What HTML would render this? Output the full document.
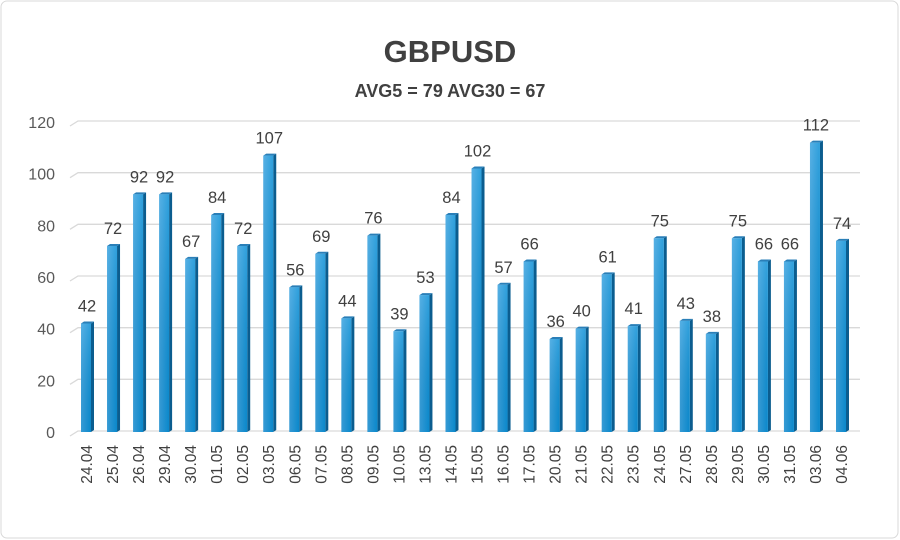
<!DOCTYPE html>
<html><head><meta charset="utf-8"><style>
body{margin:0;background:#fff}
svg{display:block;font-family:"Liberation Sans",sans-serif}
</style></head><body>
<svg id="c" width="900" height="540">
<defs>
<linearGradient id="fg" x1="0" y1="0" x2="1" y2="0"><stop offset="0" stop-color="#3aa3e0"/><stop offset="1" stop-color="#0a8fd6"/></linearGradient>
<linearGradient id="vg" x1="0" y1="0" x2="0" y2="1"><stop offset="0" stop-color="#ffffff" stop-opacity="0.15"/><stop offset="1" stop-color="#000" stop-opacity="0.05"/></linearGradient>
</defs>
<rect x="1" y="1" width="897" height="537" rx="6" fill="#fff" stroke="#d9d9d9"/>
<text x="450" y="62" text-anchor="middle" font-size="31" font-weight="bold" fill="#404040">GBPUSD</text>
<text x="450" y="97" text-anchor="middle" font-size="18" font-weight="bold" fill="#404040">AVG5 = 79 AVG30 = 67</text>
<g id="grid"></g><g id="bars"></g><g id="labels"></g>
</svg>
<script>
const categories=["24.04","25.04","26.04","29.04","30.04","01.05","02.05","03.05","06.05","07.05","08.05","09.05","10.05","13.05","14.05","15.05","16.05","17.05","20.05","21.05","22.05","23.05","24.05","27.05","28.05","29.05","30.05","31.05","03.06","04.06"];
const values=[42,72,92,92,67,84,72,107,56,69,44,76,39,53,84,102,57,66,36,40,61,41,75,43,38,75,66,66,112,74];
const yTicks=[0,20,40,60,80,100,120];
const NS="http://www.w3.org/2000/svg";
const y0=432,yTop=122,yMax=120;
function y(v){return y0-(v/yMax)*(y0-yTop);}
const n=categories.length,x0=81,x1=836;
function x(i){return x0+i*(x1-x0)/(n-1);}
function mk(t,a,p){const e=document.createElementNS(NS,t);for(const k in a)e.setAttribute(k,a[k]);p.appendChild(e);return e;}
const G=document.getElementById('grid'),B=document.getElementById('bars'),L=document.getElementById('labels');
yTicks.forEach(t=>{
  const yy=y(t);
  const gl=mk('polyline',{points:`70,${yy+4} 78,${yy-1} 860,${yy-1}`,fill:'none',stroke:'#d9d9d9','stroke-width':1.3},G);
  
  
  const tl=mk('text',{x:55,y:yy+6,'text-anchor':'end','font-size':16,fill:'#595959'},L);
  tl.textContent=t;
  
  
});
categories.forEach((c,i)=>{
  const v=values[i],bx=x(i),by=y(v),w=10,d=3;
  const g=mk('g',{},B);
  
  
  mk('polygon',{points:`${bx+w},${by} ${bx+w+d},${by-2} ${bx+w+d},${y0-2} ${bx+w},${y0}`,fill:'#0b5d8f'},g);
  mk('polygon',{points:`${bx},${by} ${bx+d},${by-2} ${bx+w+d},${by-2} ${bx+w},${by}`,fill:'#2a7fb8'},g);
  mk('rect',{x:bx,y:by,width:w,height:y0-by,fill:'url(#fg)'},g);
  mk('rect',{x:bx,y:by,width:w,height:y0-by,fill:'url(#vg)'},g);
  const vl=mk('text',{x:bx+6,y:by-12,'text-anchor':'middle','font-size':16.5,fill:'#404040'},L);
  vl.textContent=v;
  
  
  const cl=mk('text',{x:0,y:0,'text-anchor':'end','font-size':15.5,fill:'#404040',transform:`translate(${bx+11},${445}) rotate(-90)`},L);
  cl.textContent=c;
  
  
});
</script>
</body></html>
